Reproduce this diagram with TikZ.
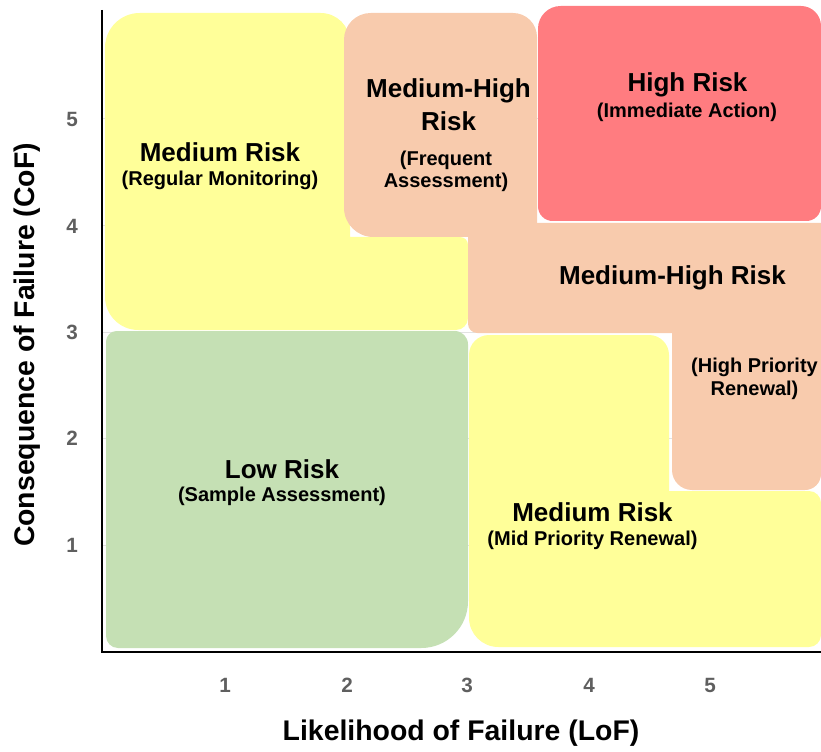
\documentclass[tikz,border=0pt]{standalone}
\usepackage{fontspec}
\setmainfont{Liberation Sans}
\definecolor{zoneyellow}{HTML}{FFFF99}
\definecolor{zonepeach}{HTML}{F8CBAD}
\definecolor{zonered}{HTML}{FF7C80}
\definecolor{zonegreen}{HTML}{C5E0B4}
\definecolor{tickgray}{HTML}{5F5F5F}
\definecolor{gridgray}{HTML}{E2E2E2}
\begin{document}
\begin{tikzpicture}[x=0.75pt,y=-0.75pt,
  head/.style={font=\fontsize{19.5}{22}\selectfont\bfseries, inner sep=0pt},
  sub/.style={font=\fontsize{15}{18}\selectfont\bfseries, inner sep=0pt},
  tick/.style={font=\fontsize{15.5}{18}\selectfont\bfseries, text=tickgray, inner sep=0pt},
  axtitle/.style={font=\fontsize{21.3}{24}\selectfont\bfseries, inner sep=0pt},
  grid line/.style={draw=gridgray, line width=0.75pt},
  axis line/.style={draw=black, line width=1.6pt}]
\useasboundingbox (0,0) rectangle (821,752);

% horizontal grid lines at the CoF levels
\foreach \yy in {119,226,332,438,545}
  \draw[grid line] (102,\yy) -- (821,\yy);

% (the corner radius given before "-- (p)" rounds the corner at p)

% Medium risk, regular monitoring (upper left)
\fill[zoneyellow] (105,170) [rounded corners=26pt] -- (105,13)
  [rounded corners=22pt] -- (350,13) [sharp corners] -- (350,237)
  [rounded corners=6pt] -- (468,237) [rounded corners=9pt] -- (468,330)
  [rounded corners=25pt] -- (105,330) [sharp corners] -- cycle;

% Medium-high risk, frequent assessment
\fill[zonepeach] (344,120) [rounded corners=20pt] -- (344,13)
  [rounded corners=18pt] -- (537,13) [sharp corners] -- (537,237)
  [rounded corners=22pt] -- (344,237) [sharp corners] -- cycle;

% Medium-high risk band and high priority renewal column
\fill[zonepeach] (600,223) -- (821,223) [rounded corners=12pt] -- (821,490)
  [rounded corners=15pt] -- (672,490) [sharp corners] -- (672,333)
  [rounded corners=7pt] -- (468,333) [sharp corners] -- (468,223) -- cycle;

% High risk
\fill[zonered] (680,6) [rounded corners=15pt] -- (821,6)
  [rounded corners=11pt] -- (821,221) [rounded corners=11pt] -- (538,221)
  [rounded corners=17pt] -- (538,6) [sharp corners] -- cycle;

% Low risk
\fill[zonegreen] (280,331) [rounded corners=10pt] -- (468,331)
  [rounded corners=35pt] -- (468,648) [rounded corners=9pt] -- (106,648)
  [rounded corners=8pt] -- (106,331) [sharp corners] -- cycle;

% Medium risk, mid priority renewal (lower right)
\fill[zoneyellow] (560,335) [rounded corners=15pt] -- (669,335)
  [sharp corners] -- (669,491) [rounded corners=9pt] -- (821,491)
  [rounded corners=9pt] -- (821,647) [rounded corners=22pt] -- (469,647)
  [rounded corners=15pt] -- (469,335) [sharp corners] -- cycle;

% axes
\coordinate (ytop) at (102,10);
\coordinate (origin) at (102,652);
\coordinate (xend) at (821,652);
\draw[axis line] (ytop) -- (origin) -- (xend);

% zone labels
\node[head] (mr1) at (220,152) {Medium Risk};
\node[sub]  (mr1s) at (220,180) {(Regular Monitoring)};

\node[head] (mh1a) at (448.5,91) {Medium-High};
\node[head] (mh1b) at (448.5,121) {Risk};
\node[sub]  (mh1c) at (446,160) {(Frequent};
\node[sub]  (mh1d) at (446,182.5) {Assessment)};

\node[head] (hr) at (687.5,85) {High Risk};
\node[sub]  (hrs) at (687,112) {(Immediate Action)};

\node[head] (mh2) at (672.5,277.5) {Medium-High Risk};
\node[sub]  (mh2a) at (754.5,367.5) {(High Priority};
\node[sub]  (mh2b) at (754.5,390) {Renewal)};

\node[head] (lr) at (282,469) {Low Risk};
\node[sub]  (lrs) at (282,496) {(Sample Assessment)};

\node[head] (mr2) at (592.5,512) {Medium Risk};
\node[sub]  (mr2s) at (592.5,540) {(Mid Priority Renewal)};

% tick labels
\node[tick] (y5) at (72,119) {5};
\node[tick] (y4) at (72,226) {4};
\node[tick] (y3) at (72,332) {3};
\node[tick] (y2) at (72,438) {2};
\node[tick] (y1) at (72,545) {1};

\node[tick] (x1) at (225,685) {1};
\node[tick] (x2) at (347,685) {2};
\node[tick] (x3) at (467,685) {3};
\node[tick] (x4) at (589,685) {4};
\node[tick] (x5) at (710,685) {5};

% axis titles
\node[axtitle] (xtitle) at (461,733) {Likelihood of Failure (LoF)};
\node[axtitle, rotate=90] (ytitle) at (27,345) {Consequence of Failure (CoF)};
\end{tikzpicture}
\end{document}
